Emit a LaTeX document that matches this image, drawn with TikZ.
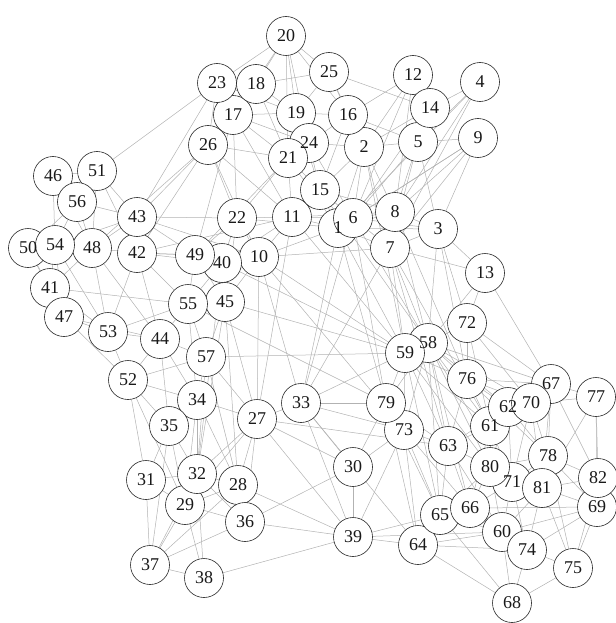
\documentclass[tikz,border=0pt]{standalone}
\usepackage{fontspec}
\setmainfont{Liberation Serif}
\pgfdeclarelayer{bg}
\pgfdeclarelayer{fg}
\pgfsetlayers{bg,main,fg}
\begin{document}
\begin{tikzpicture}[x=1pt,y=-1pt,
  vtx/.style={circle,draw=black!85,line width=0.6pt,fill=white,minimum size=39pt,inner sep=0pt},
  lbl/.style={inner sep=0pt,font=\fontsize{18}{18}\selectfont,text=black!90},
  edge/.style={draw=black!30,line width=0.5pt}]
\useasboundingbox (0,0) rectangle (615,623);
\foreach \n/\x/\y in {
1/338/228, 2/364/147, 3/438/229, 4/480/82, 5/418/142, 6/353/218, 7/390/248, 8/395/212,
9/478/138, 10/259/257, 11/292/217, 12/413/75, 13/485/273, 14/430/108, 15/320/190,
16/348/115, 17/233/115, 18/256/84, 19/296/113, 20/286/36, 22/237/218, 23/217/83,
24/309/143, 21/288/158, 25/329/72, 26/208/145, 27/257/419, 28/238/485, 29/185/505, 30/353/467,
31/146/480, 32/197/474, 33/301/403, 34/197/400, 35/169/426, 36/245/522, 37/150/565,
38/204/578, 39/353/537, 40/222/263, 41/50/288, 42/137/253, 43/137/217, 44/160/339,
45/225/302, 46/53/176, 47/64/317, 48/92/248, 49/195/255, 50/28/248, 51/97/171,
52/128/380, 53/108/332, 54/55/245, 55/188/304, 56/77/202, 57/206/357, 58/428/343,
59/405/353, 60/502/532, 61/490/426, 62/508/407, 63/448/446, 64/418/545, 65/440/515,
66/470/508, 67/551/384, 68/512/603, 69/597/507, 70/531/403, 71/512/482, 72/467/323,
73/404/430, 74/527/550, 75/573/568, 76/467/379, 77/596/397, 78/548/456, 79/386/403,
80/490/467, 81/542/488, 82/598/478}
  {\node[vtx] (n\n) at (\x,\y) {};
   \begin{pgfonlayer}{fg}\node[lbl] (l\n) at (n\n.center) {\n};\end{pgfonlayer}}
\begin{pgfonlayer}{bg}
\foreach \a/\b in {
20/18,20/17,20/19,20/21,20/24,20/16,20/25,20/23,
23/18,23/17,23/26,23/19,18/17,18/19,18/25,18/21,
17/19,17/26,17/21,17/24,17/22,17/11,19/16,19/24,19/21,19/25,19/15,
16/25,16/2,16/24,16/12,16/5,16/15,25/2,25/14,
12/14,12/5,12/2,12/8,12/6,4/5,4/14,4/8,4/7,4/1,14/5,14/2,14/6,
9/5,9/8,9/1,9/6,9/3,9/7,5/2,5/8,5/6,5/3,5/7,
2/15,2/6,2/8,2/1,2/24,2/7,21/24,21/15,21/11,21/26,21/1,21/22,
24/15,24/6,15/11,15/1,15/6,15/8,26/22,26/11,26/10,22/11,22/10,22/1,
11/1,11/6,11/10,11/8,1/6,1/8,1/7,1/3,1/10,6/8,6/7,6/3,8/7,8/3,7/3,7/13,3/13,7/10,
46/56,46/51,46/54,46/48,51/56,51/43,51/42,51/48,56/54,56/48,56/43,56/50,
43/42,43/48,43/49,43/54,50/54,50/48,50/41,50/47,54/48,54/41,54/47,54/53,
48/42,48/41,48/53,48/44,42/49,42/40,42/55,42/44,42/53,49/40,49/55,49/45,49/10,
40/10,40/45,40/55,41/47,41/53,41/55,47/53,47/44,47/52,55/45,55/44,55/57,55/53,
45/57,45/10,53/44,53/52,44/57,44/52,44/34,52/57,52/34,52/35,57/34,
22/49,22/40,26/43,26/42,23/51,23/43,17/49,10/42,11/40,22/45,26/48,21/49,10/43,22/43,11/42,
34/35,34/27,34/32,34/29,34/28,35/31,35/32,35/29,35/37,31/32,31/29,31/37,
32/29,32/28,32/36,32/37,32/38,29/28,29/37,29/38,29/36,28/36,28/39,28/27,28/37,
36/39,36/30,36/37,37/38,38/39,27/33,27/39,27/32,27/29,27/36,33/39,33/30,30/39,
57/27,57/32,57/28,45/27,45/32,55/34,44/35,52/31,52/29,45/28,40/32,10/27,10/33,
58/59,58/72,58/76,58/79,58/73,58/63,58/61,58/62,58/80,58/65,58/66,58/71,58/70,58/67,
59/79,59/73,59/63,59/76,59/61,59/80,59/65,72/76,72/67,72/13,72/61,72/70,
76/67,76/62,76/70,76/61,76/63,76/78,67/77,67/70,67/62,67/78,67/82,67/81,
77/70,77/81,77/82,77/69,62/70,62/61,62/80,62/71,62/78,62/63,70/61,70/78,70/81,70/71,
61/63,61/80,61/71,61/66,79/73,79/63,79/65,79/64,73/63,73/65,73/39,73/64,73/66,
63/80,63/65,63/66,63/60,78/81,78/82,78/71,78/80,78/69,78/75,80/71,80/66,80/60,80/65,
71/81,71/60,71/74,71/66,81/82,81/69,81/74,81/75,81/60,82/69,82/75,
69/74,69/75,69/60,69/66,65/66,65/64,65/60,65/68,66/60,66/64,66/74,
60/74,60/64,60/68,74/75,74/68,74/64,75/68,64/68,64/39,
7/58,7/59,1/59,6/58,8/58,3/72,3/58,13/67,8/76,6/79,1/79,7/61,3/76,7/63,2/59,11/59,10/59,15/58,13/58,
45/59,57/59,55/79,10/73,40/59,1/33,6/33,11/27,7/33,
33/79,33/73,33/59,33/64,27/63,30/73,27/30,39/65,39/60,30/79}
  \draw[edge] (n\a) -- (n\b);
\end{pgfonlayer}
\end{tikzpicture}
\end{document}
